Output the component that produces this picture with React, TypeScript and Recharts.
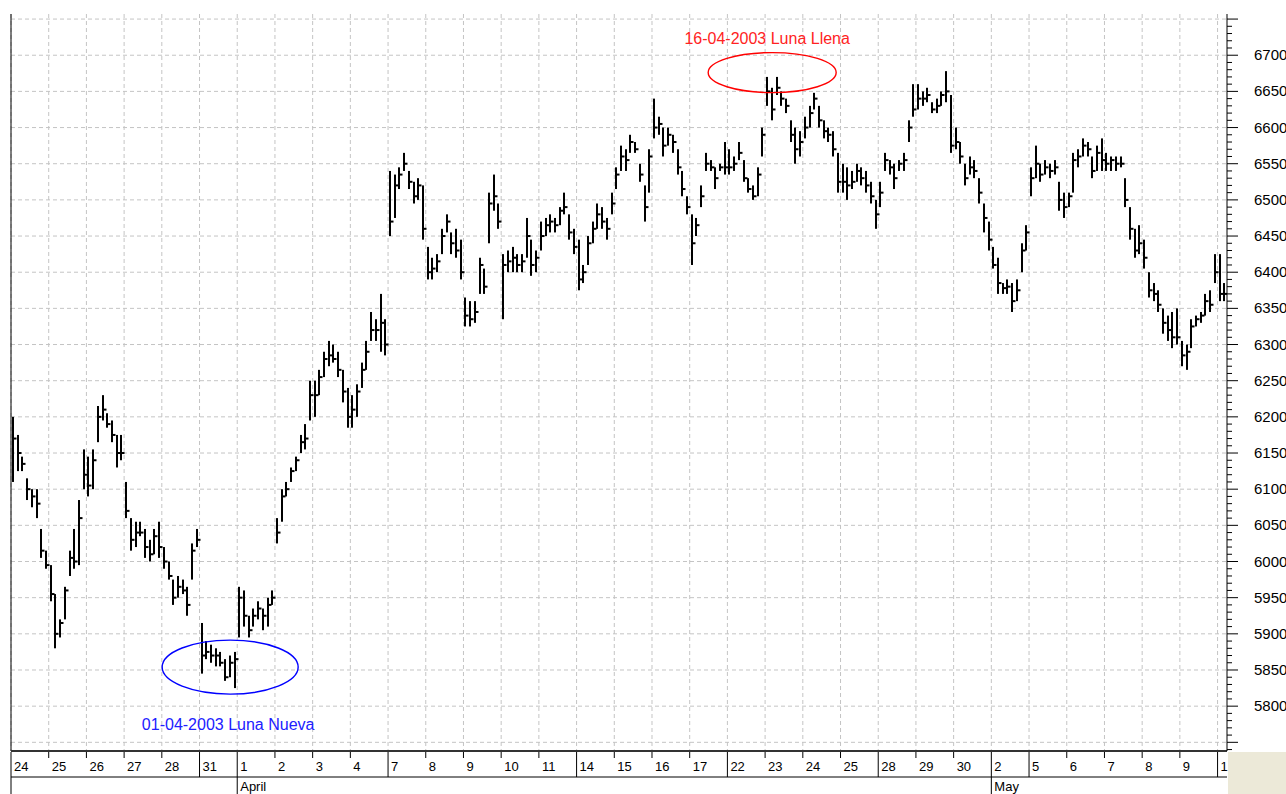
import { ComposedChart, Bar, XAxis, YAxis, CartesianGrid, ReferenceLine, ReferenceDot } from "recharts";

// intraday bars: [low, high, close], 8 per session
type Ohlc = [number, number, number];

const marchDays = ["24", "25", "26", "27", "28", "31"];
const aprilDays = ["1", "2", "3", "4", "7", "8", "9", "10", "11", "14", "15", "16", "17", "22", "23", "24", "25", "28", "29", "30"];
const mayDays = ["2", "5", "6", "7", "8", "9", "12"];

const marchBars: Ohlc[][] = [
  [[6110, 6200, 6170], [6125, 6175, 6150], [6125, 6145, 6135], [6085, 6115, 6100], [6075, 6100, 6090], [6060, 6100, 6080], [6005, 6045, 6015], [5990, 6015, 5995]],
  [[5945, 5995, 5955], [5880, 5955, 5900], [5895, 5920, 5915], [5920, 5965, 5960], [5980, 6015, 6005], [5990, 6045, 6000], [5995, 6085, 6060], [6100, 6155, 6120]],
  [[6090, 6145, 6105], [6100, 6155, 6140], [6165, 6215, 6200], [6195, 6230, 6210], [6185, 6205, 6190], [6165, 6195, 6175], [6130, 6175, 6150], [6140, 6175, 6150]],
  [[6060, 6110, 6070], [6015, 6060, 6030], [6020, 6055, 6040], [6035, 6055, 6040], [6005, 6045, 6020], [6000, 6030, 6010], [6010, 6045, 6035], [6005, 6055, 6020]],
  [[5990, 6020, 6000], [5975, 6000, 5980], [5940, 5975, 5950], [5950, 5980, 5965], [5955, 5975, 5960], [5925, 5965, 5940], [5975, 6025, 6015], [6020, 6045, 6030]],
  [[5845, 5915, 5870], [5865, 5890, 5875], [5860, 5885, 5870], [5855, 5880, 5870], [5855, 5875, 5860], [5835, 5865, 5840], [5840, 5870, 5860], [5825, 5875, 5865]],
];

const aprilBars: Ohlc[][] = [
  [[5895, 5965, 5950], [5910, 5960, 5925], [5895, 5925, 5905], [5910, 5935, 5925], [5920, 5945, 5935], [5905, 5935, 5925], [5910, 5950, 5940], [5940, 5960, 5950]],
  [[6025, 6060, 6040], [6055, 6100, 6090], [6090, 6110, 6100], [6110, 6130, 6125], [6125, 6145, 6140], [6150, 6175, 6165], [6155, 6190, 6170], [6195, 6250, 6230]],
  [[6200, 6250, 6230], [6230, 6265, 6255], [6255, 6290, 6280], [6270, 6305, 6285], [6275, 6300, 6280], [6255, 6290, 6265], [6220, 6265, 6235], [6185, 6240, 6200]],
  [[6185, 6230, 6210], [6200, 6245, 6235], [6240, 6275, 6265], [6265, 6305, 6290], [6305, 6345, 6320], [6305, 6335, 6320], [6290, 6370, 6330], [6285, 6335, 6300]],
  [[6450, 6540, 6470], [6475, 6535, 6520], [6515, 6545, 6535], [6540, 6565, 6550], [6515, 6540, 6525], [6495, 6525, 6505], [6500, 6530, 6520], [6445, 6520, 6460]],
  [[6390, 6435, 6400], [6390, 6420, 6405], [6400, 6425, 6415], [6425, 6460, 6450], [6455, 6480, 6470], [6425, 6455, 6440], [6420, 6460, 6430], [6390, 6445, 6400]],
  [[6325, 6365, 6340], [6325, 6360, 6335], [6330, 6360, 6345], [6370, 6420, 6410], [6370, 6405, 6380], [6440, 6510, 6495], [6485, 6535, 6505], [6460, 6495, 6470]],
  [[6335, 6425, 6410], [6400, 6430, 6415], [6400, 6435, 6420], [6400, 6425, 6410], [6400, 6425, 6415], [6420, 6475, 6450], [6395, 6445, 6410], [6400, 6430, 6420]],
  [[6430, 6470, 6450], [6450, 6475, 6465], [6455, 6480, 6470], [6455, 6475, 6465], [6465, 6490, 6485], [6480, 6510, 6490], [6445, 6480, 6455], [6425, 6460, 6435]],
  [[6375, 6445, 6390], [6385, 6410, 6400], [6410, 6450, 6440], [6440, 6470, 6460], [6460, 6495, 6480], [6460, 6490, 6470], [6445, 6475, 6460], [6480, 6510, 6495]],
  [[6515, 6545, 6535], [6540, 6575, 6560], [6540, 6570, 6555], [6565, 6590, 6580], [6565, 6580, 6570], [6525, 6550, 6535], [6470, 6520, 6490], [6510, 6570, 6560]],
  [[6585, 6640, 6600], [6590, 6615, 6605], [6560, 6600, 6575], [6575, 6600, 6590], [6565, 6590, 6580], [6535, 6570, 6545], [6505, 6540, 6515], [6480, 6505, 6490]],
  [[6410, 6480, 6440], [6450, 6475, 6465], [6490, 6520, 6505], [6540, 6565, 6550], [6540, 6555, 6545], [6515, 6545, 6530], [6540, 6550, 6545], [6535, 6580, 6545]],
  [[6535, 6570, 6545], [6540, 6560, 6550], [6555, 6580, 6565], [6525, 6555, 6530], [6510, 6530, 6515], [6500, 6520, 6505], [6505, 6545, 6535], [6560, 6600, 6590]],
  [[6630, 6670, 6650], [6610, 6655, 6625], [6645, 6670, 6655], [6630, 6650, 6640], [6620, 6640, 6630], [6580, 6610, 6590], [6550, 6600, 6570], [6560, 6595, 6580]],
  [[6585, 6615, 6600], [6600, 6630, 6620], [6625, 6648, 6640], [6600, 6630, 6610], [6585, 6610, 6595], [6580, 6600, 6590], [6560, 6595, 6570], [6510, 6565, 6525]],
  [[6510, 6550, 6525], [6500, 6545, 6520], [6515, 6540, 6525], [6525, 6550, 6540], [6520, 6545, 6530], [6510, 6540, 6520], [6495, 6525, 6505], [6460, 6500, 6480]],
  [[6490, 6525, 6510], [6540, 6565, 6555], [6535, 6555, 6545], [6515, 6550, 6530], [6540, 6555, 6550], [6540, 6565, 6555], [6580, 6610, 6600], [6615, 6660, 6625]],
  [[6625, 6660, 6640], [6630, 6650, 6640], [6635, 6655, 6645], [6620, 6635, 6625], [6620, 6640, 6630], [6630, 6650, 6645], [6635, 6678, 6650], [6565, 6645, 6575]],
  [[6570, 6600, 6580], [6550, 6580, 6560], [6520, 6550, 6530], [6535, 6560, 6545], [6530, 6555, 6540], [6495, 6530, 6510], [6455, 6495, 6475], [6430, 6470, 6445]],
];

const mayBars: Ohlc[][] = [
  [[6405, 6435, 6410], [6370, 6420, 6385], [6370, 6385, 6378], [6370, 6390, 6380], [6345, 6385, 6360], [6360, 6390, 6375], [6400, 6440, 6430], [6430, 6465, 6455]],
  [[6505, 6545, 6530], [6530, 6575, 6550], [6525, 6550, 6535], [6535, 6555, 6545], [6530, 6550, 6540], [6535, 6555, 6545], [6485, 6525, 6500], [6475, 6510, 6490]],
  [[6490, 6510, 6505], [6510, 6565, 6555], [6545, 6570, 6560], [6560, 6585, 6575], [6560, 6580, 6570], [6530, 6560, 6540], [6540, 6575, 6565], [6540, 6585, 6555]],
  [[6540, 6565, 6550], [6540, 6560, 6555], [6540, 6560, 6550], [6545, 6560, 6550], [6490, 6530, 6500], [6445, 6490, 6460], [6420, 6460, 6430], [6425, 6465, 6440]],
  [[6405, 6445, 6420], [6365, 6400, 6375], [6360, 6385, 6370], [6345, 6375, 6355], [6315, 6350, 6330], [6305, 6340, 6320], [6295, 6345, 6310], [6300, 6350, 6310]],
  [[6270, 6305, 6285], [6265, 6300, 6290], [6295, 6335, 6325], [6325, 6340, 6335], [6330, 6345, 6340], [6340, 6370, 6360], [6345, 6375, 6355], [6385, 6425, 6400]],
  [[6360, 6425, 6370], [6360, 6385, 6370]],
];

// sessions that open a new week (index into the full day list)
const weekStartDays = [0, 5, 10, 15, 19, 23, 27, 32];
const monthNames = ["April", "May"];
const monthStartDays = [6, 26];

const gridPrices = [5750, 5800, 5850, 5900, 5950, 6000, 6050, 6100, 6150, 6200, 6250, 6300, 6350, 6400, 6450, 6500, 6550, 6600, 6650, 6700, 6750];

const moonLabels = ["16-04-2003 Luna Llena", "01-04-2003 Luna Nueva"];
const moonBarPos = [161.5, 46.5];
const moonPrices = [6676, 5854];

const FONT = '"Liberation Sans", Arial, sans-serif';

const allDays = [...marchDays, ...aprilDays, ...mayDays];
const allBars = [...marchBars, ...aprilBars, ...mayBars];

interface Row { pos: number; range: [number, number]; low: number; high: number; close: number }

const rows: Row[] = [];
const dayStarts: number[] = [];
allBars.forEach((session) => {
  dayStarts.push(rows.length);
  session.forEach(([low, high, close]) => {
    rows.push({ pos: rows.length + 0.5, range: [low, high], low, high, close });
  });
});
const totalBars = rows.length;
const monthTicks = monthStartDays.map((d) => dayStarts[d]);

const priceTicks: number[] = [];
for (let v = 5740; v <= 6750; v += 10) priceTicks.push(v);

function OhlcShape(props: any) {
  const { x, y, width, height, payload } = props;
  if (x == null || y == null || !payload) return null;
  const top = Math.min(y, y + height);
  const h = Math.abs(height);
  const cx = Math.round(x + width / 2);
  const span = payload.high - payload.low;
  const yc = span > 0 ? top + (h * (payload.high - payload.close)) / span : top;
  return (
    <g>
      <rect x={cx - 1} y={top} width={2} height={Math.max(h, 1)} fill="#000" />
      <rect x={cx + 1} y={yc - 1} width={2.5} height={2} fill="#000" />
    </g>
  );
}

function DayTick(props: any) {
  const { x, y, payload } = props;
  const d = dayStarts.indexOf(payload.value);
  if (d < 0) return null;
  const isMonth = monthStartDays.includes(d);
  const isWeek = weekStartDays.includes(d);
  const y2 = d === 0 || isMonth ? y + 43 : isWeek ? y + 26 : y + 7;
  return (
    <g>
      <line x1={x} x2={x} y1={y + 1} y2={y2} stroke="#000" strokeWidth={1} />
      <text x={x + 3} y={y + 20} fontSize={13} fontFamily={FONT} fill="#000">
        {allDays[d]}
      </text>
    </g>
  );
}

function MonthTick(props: any) {
  const { x, y, payload } = props;
  const i = monthTicks.indexOf(payload.value);
  if (i < 0) return null;
  return (
    <text x={x + 3} y={y + 14} fontSize={13} fontFamily={FONT} fill="#000">
      {monthNames[i]}
    </text>
  );
}

function PriceTick(props: any) {
  const { x, y, payload } = props;
  const v = payload.value;
  const major = v % 50 === 0;
  return (
    <g>
      <line x1={x} x2={x + (major ? 11 : 5)} y1={y} y2={y} stroke="#000" strokeWidth={1} />
      {major && v >= 5800 && v <= 6700 && (
        <text x={x + 27} y={y + 5} fontSize={15} fontFamily={FONT} fill="#000">
          {v}
        </text>
      )}
    </g>
  );
}

const moonStyles = [
  { color: "#ff0000", text: "#ff2222", rx: 64, ry: 20, dx: -5, dy: -29 },
  { color: "#0000ff", text: "#2020ff", rx: 68, ry: 27, dx: -2, dy: 63 },
];

export default function App() {
  return (
    <div
      style={{ position: "absolute", left: 0, top: 0, width: 1286, height: 794, background: "#fff", overflow: "hidden", fontFamily: FONT }}
    >
      <ComposedChart width={1286} height={794} data={rows} margin={{ top: 14, right: 0, bottom: 0, left: 11 }}>
        <CartesianGrid
          stroke="#c4c4c4"
          strokeDasharray="4 3"
          horizontalValues={gridPrices}
          verticalValues={dayStarts}
        />
        <XAxis
          dataKey="pos"
          type="number"
          domain={[0, totalBars]}
          ticks={dayStarts}
          interval={0}
          height={26}
          tickSize={0}
          tickMargin={0}
          tickLine={false}
          axisLine={{ stroke: "#333", strokeWidth: 2 }}
          tick={DayTick}
          allowDataOverflow
        />
        <XAxis
          xAxisId="month"
          dataKey="pos"
          type="number"
          domain={[0, totalBars]}
          ticks={monthTicks}
          interval={0}
          height={17}
          tickSize={0}
          tickMargin={0}
          tickLine={false}
          axisLine={{ stroke: "#000" }}
          tick={MonthTick}
          allowDataOverflow
        />
        <YAxis
          orientation="right"
          type="number"
          domain={[5738, 6757]}
          ticks={priceTicks}
          interval={0}
          width={59}
          tickSize={0}
          tickMargin={0}
          tickLine={false}
          axisLine={{ stroke: "#000" }}
          tick={PriceTick}
          allowDataOverflow
        />
        <ReferenceLine x={0} stroke="#000" />
        <Bar dataKey="range" barSize={2} shape={OhlcShape} isAnimationActive={false} />
        {moonLabels.map((label, i) => {
          const s = moonStyles[i];
          return (
            <ReferenceDot
              key={label}
              x={moonBarPos[i]}
              y={moonPrices[i]}
              r={0}
              shape={(p: any) => (
                <g>
                  <ellipse cx={p.cx} cy={p.cy} rx={s.rx} ry={s.ry} fill="none" stroke={s.color} strokeWidth={1.4} />
                  <text x={p.cx + s.dx} y={p.cy + s.dy} textAnchor="middle" fontSize={16} fontFamily={FONT} fill={s.text}>
                    {label}
                  </text>
                </g>
              )}
            />
          );
        })}
      </ComposedChart>
      <div style={{ position: "absolute", left: 1228, top: 752, width: 58, height: 42, background: "#ece9d8" }} />
    </div>
  );
}
